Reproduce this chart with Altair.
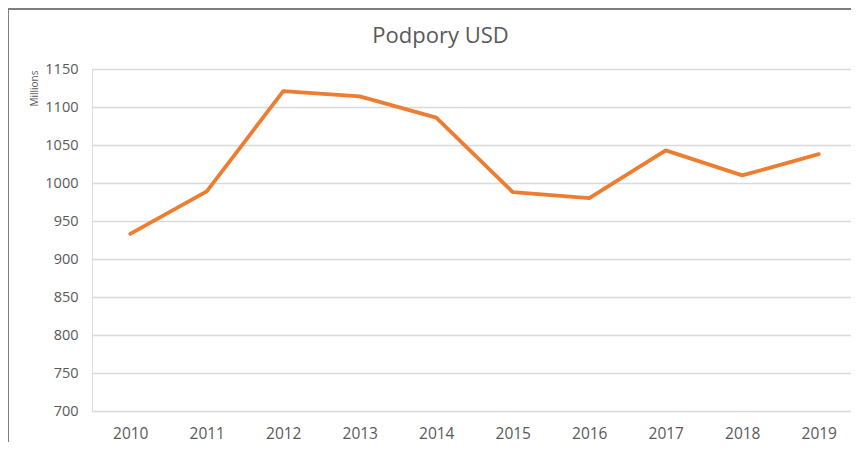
import altair as alt
import pandas as pd

years = [2010, 2011, 2012, 2013, 2014, 2015, 2016, 2017, 2018, 2019]
values = [933, 989, 1121, 1114, 1086, 988, 980, 1043, 1010, 1038]
title_text = "Podpory USD"

df = pd.DataFrame({"Rok": years, "Hodnota": values})

W, H = 759, 342
FONT = "Open Sans"
GREY = "#595959"

line = alt.Chart(df).mark_line(color="#ED7D31", strokeWidth=3.8, strokeCap="round", strokeJoin="round").encode(
    x=alt.X("Rok:Q",
            scale=alt.Scale(domain=[2009.5, 2009.5 + W / 76.5], nice=False, zero=False),
            axis=alt.Axis(title=None, values=years, format="d", labelAngle=0, ticks=False,
                          domain=False, grid=False, labelFlush=False,
                          labelFont=FONT, labelFontSize=15.5, labelColor=GREY, labelPadding=15)),
    y=alt.Y("Hodnota:Q",
            scale=alt.Scale(domain=[700, 1150], nice=False, zero=False),
            axis=alt.Axis(values=list(range(700, 1151, 50)), format="d", ticks=False, domain=False,
                          grid=True, gridColor="#d9d9d9", gridWidth=1.3,
                          labelFont=FONT, labelFontSize=14.5, labelColor=GREY, labelPadding=14,
                          title="Millions", titleFont=FONT, titleFontSize=10,
                          titleFontWeight="normal", titleColor=GREY, titleAngle=270,
                          titleX=-58, titleY=19, titleAlign="center", titleBaseline="middle")),
)

frame_top = alt.Chart(df).mark_rule(color="#7f7f7f", strokeWidth=1.3).encode(
    x=alt.value(-84), x2=alt.value(W + 10), y=alt.value(-60)
)
frame_left = alt.Chart(df).mark_rule(color="#7f7f7f", strokeWidth=1.3).encode(
    x=alt.value(-84), y=alt.value(-60), y2=alt.value(H + 40)
)

title = alt.Chart(pd.DataFrame({"t": [title_text]})).mark_text(
    font=FONT, fontSize=22, color=GREY, align="center", baseline="alphabetic"
).encode(text="t:N", x=alt.value(348.5), y=alt.value(-26))

chart = alt.layer(frame_top, frame_left, line, title).properties(
    width=W, height=H,
    padding={"left": 84, "top": 61, "right": 0, "bottom": 31},
    autosize=alt.AutoSizeParams(type="none"),
).configure_view(stroke=None).configure(background="white")

chart.save("out.html", embed_options={"renderer": "svg", "actions": False})
